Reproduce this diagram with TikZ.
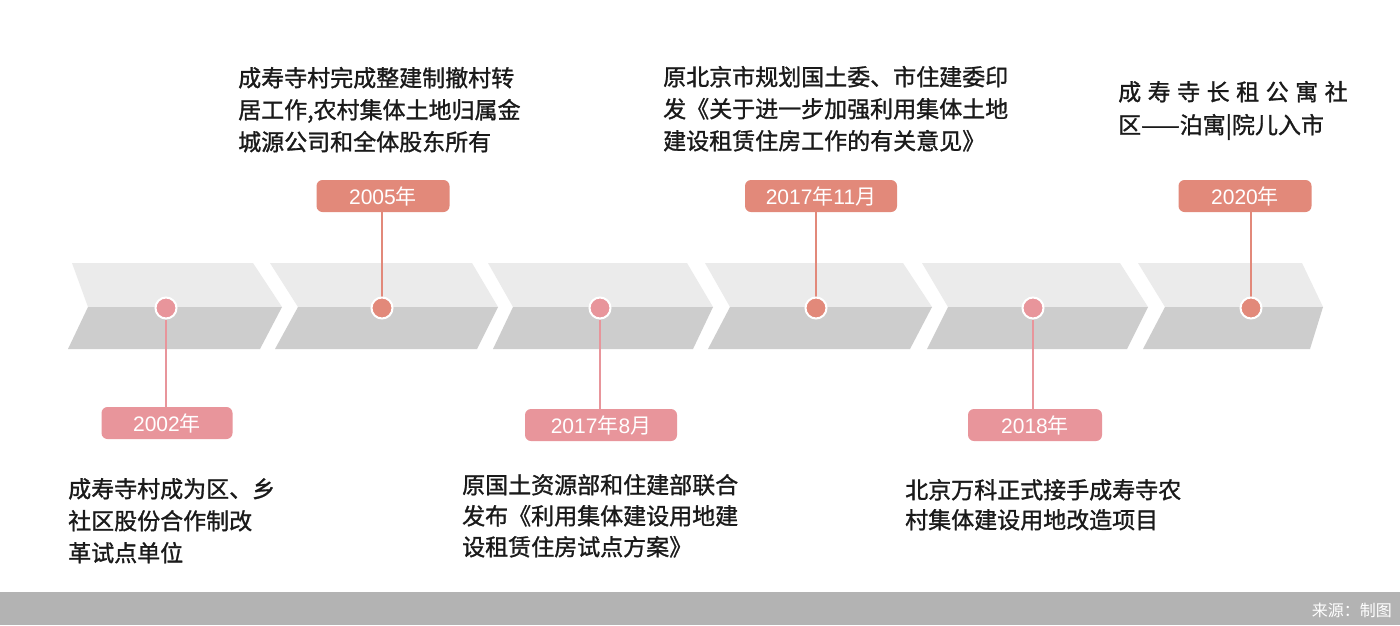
\documentclass[tikz,border=0pt]{standalone}
\usepackage{fontspec}
\setmainfont{Noto Sans CJK SC}
\newfontfamily\descfont{Noto Sans CJK SC}[FakeBold=1.2]
\newfontfamily\yearfont{Liberation Sans}
\newcommand\yr[1]{{\yearfont #1}}
\pgfdeclarelayer{chev}
\pgfdeclarelayer{links}
\pgfsetlayers{chev,links,main}
\definecolor{chevlight}{HTML}{EBEBEB}
\definecolor{chevdark}{HTML}{CDCDCD}
\definecolor{pinkc}{HTML}{E8959B}
\definecolor{coralc}{HTML}{E2897A}
\definecolor{barc}{HTML}{B3B3B3}
\definecolor{txt}{HTML}{1A1A1A}
\tikzset{
  dotbase/.style={circle, draw=white, line width=2pt, minimum size=21pt, inner sep=0pt},
  dotp/.style={dotbase, fill=pinkc},
  dotc/.style={dotbase, fill=coralc},
  yearbase/.style={rounded corners=6pt, text=white, minimum height=32pt, inner sep=0pt, font=\fontsize{21}{21}\selectfont},
  yearp/.style={yearbase, fill=pinkc},
  yearc/.style={yearbase, fill=coralc},
  linkp/.style={draw=pinkc, line width=1.6pt},
  linkc/.style={draw=coralc, line width=1.6pt},
  desc/.style={anchor=base west, inner sep=0pt, text=txt},
}
\begin{document}
\begin{tikzpicture}[x=1pt,y=-1pt]
\useasboundingbox (0,0) rectangle (1400,625);
\begin{pgfonlayer}{chev}
\fill[white] (0,0) rectangle (1400,625);
\foreach \tl/\nt/\bl/\tr/\tp/\br in {72/88/68/253/282/260, 270/298/275/472/498/477, 488/513/493/687/713/693, 705/730/708/903/932/910, 922/948/927/1120/1148/1127, 1138/1165/1143/1302/1323/1310}{
  \fill[chevlight] (\tl,263) -- (\tr,263) -- (\tp,307) -- (\nt,307) -- cycle;
  \fill[chevdark] (\nt,307) -- (\tp,307) -- (\br,349) -- (\bl,349) -- cycle;
}
\fill[barc] (0,592) rectangle (1400,625);
\end{pgfonlayer}

% dots
\node[dotp] (d1) at (166,308) {};
\node[dotc] (d2) at (382,308) {};
\node[dotp] (d3) at (600,308) {};
\node[dotc] (d4) at (816,308) {};
\node[dotp] (d5) at (1033,308) {};
\node[dotc] (d6) at (1251,308) {};

% year labels
\node[yearp, minimum width=131pt] (y1) at (167,423) {\yr{2002}年};
\node[yearc, minimum width=133pt] (y2) at (383,196) {\yr{2005}年};
\node[yearp, minimum width=152pt] (y3) at (601,425) {\yr{2017}年\yr{8}月};
\node[yearc, minimum width=152pt] (y4) at (821,196) {\yr{2017}年\yr{11}月};
\node[yearp, minimum width=134pt] (y5) at (1035,425) {\yr{2018}年};
\node[yearc, minimum width=133pt] (y6) at (1245,196) {\yr{2020}年};

\begin{pgfonlayer}{links}
\draw[linkp] (d1) -- (d1 |- y1.north);
\draw[linkc] (d2) -- (d2 |- y2.south);
\draw[linkp] (d3) -- (d3 |- y3.north);
\draw[linkc] (d4) -- (d4 |- y4.south);
\draw[linkp] (d5) -- (d5 |- y5.north);
\draw[linkc] (d6) -- (d6 |- y6.south);
\end{pgfonlayer}

% descriptions
\node[desc, font=\descfont\fontsize{23}{32}\selectfont] (t2) at (238,86.5) {\parbox[t]{360pt}{成寿寺村完成整建制撤村转\\居工作,农村集体土地归属金\\城源公司和全体股东所有}};
\node[desc, font=\descfont\fontsize{23}{32}\selectfont] (t4) at (663,85.5) {\parbox[t]{400pt}{原北京市规划国土委、市住建委印\\发《关于进一步加强利用集体土地\\建设租赁住房工作的有关意见》}};
\node[desc, font=\descfont\fontsize{23}{33}\selectfont] (t6) at (1118,100.5) {\parbox[t]{280pt}{成\hspace{6.5pt}寿\hspace{6.5pt}寺\hspace{6.5pt}长\hspace{6.5pt}租\hspace{6.5pt}公\hspace{6.5pt}寓\hspace{6.5pt}社\\区——泊寓|院儿入市}};
\node[desc, font=\descfont\fontsize{23}{32}\selectfont] (t1) at (68,497.5) {\parbox[t]{300pt}{成寿寺村成为区、乡\\社区股份合作制改\\革试点单位}};
\node[desc, font=\descfont\fontsize{23}{31}\selectfont] (t3) at (462,493.5) {\parbox[t]{360pt}{原国土资源部和住建部联合\\发布《利用集体建设用地建\\设租赁住房试点方案》}};
\node[desc, font=\descfont\fontsize{23}{30}\selectfont] (t5) at (905,498.5) {\parbox[t]{360pt}{北京万科正式接手成寿寺农\\村集体建设用地改造项目}};

% source
\node[anchor=east, inner sep=0pt, text=white, font=\fontsize{16}{16}\selectfont] (src) at (1392,610) {来源：制图};
\end{tikzpicture}
\end{document}
